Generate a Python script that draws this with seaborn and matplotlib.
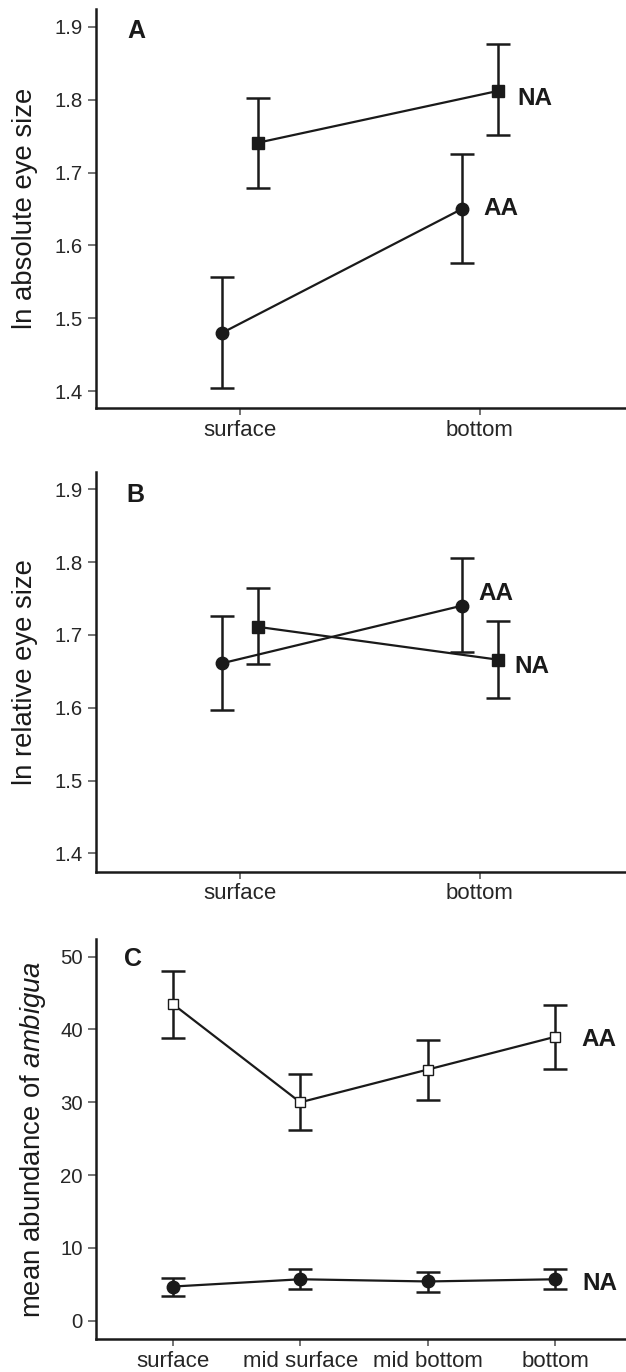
import matplotlib
matplotlib.use("Agg")
import matplotlib.pyplot as plt
import numpy as np
import pandas as pd
import seaborn as sns

# ---------------------------------------------------------------------------
# data (means with lower / upper error bar ends)

depth2 = ["surface", "bottom"]
depth4 = ["surface", "mid surface", "mid bottom", "bottom"]
groups = ["AA", "NA"]

# A: ln absolute eye size
abs_aa_mean = [1.480, 1.650]
abs_aa_lo = [1.405, 1.576]
abs_aa_hi = [1.557, 1.725]
abs_na_mean = [1.741, 1.812]
abs_na_lo = [1.679, 1.751]
abs_na_hi = [1.803, 1.876]

# B: ln relative eye size
rel_aa_mean = [1.661, 1.740]
rel_aa_lo = [1.597, 1.676]
rel_aa_hi = [1.726, 1.805]
rel_na_mean = [1.711, 1.666]
rel_na_lo = [1.660, 1.613]
rel_na_hi = [1.765, 1.719]

# C: mean abundance of ambigua
amb_aa_mean = [43.5, 30.0, 34.5, 39.0]
amb_aa_lo = [38.9, 26.2, 30.3, 34.6]
amb_aa_hi = [48.1, 33.9, 38.6, 43.4]
amb_na_mean = [4.7, 5.7, 5.4, 5.7]
amb_na_lo = [3.4, 4.35, 4.0, 4.35]
amb_na_hi = [5.9, 7.05, 6.7, 7.05]

INK = "#1a1a1a"
TICK = "#4d4d4d"

sns.set_theme(style="ticks")
plt.rcParams["font.family"] = ["Liberation Sans", "DejaVu Sans"]
plt.rcParams["mathtext.fontset"] = "custom"
plt.rcParams["mathtext.rm"] = "Liberation Sans"
plt.rcParams["mathtext.it"] = "Liberation Sans:italic"


def make_frame(depths, aa, na):
    rows = []
    for grp, (mean, lo, hi) in zip(groups, (aa, na)):
        for d, m, l, h in zip(depths, mean, lo, hi):
            rows.append({"depth": d, "group": grp, "mean": m, "lo": l, "hi": h})
    return pd.DataFrame(rows)


def draw_panel(ax, df, order, dodge, markers, sizes, open_aa, xlim, ylim, yticks,
               ylabel, ylabel_x, letter, letter_xy, label_offsets):
    sns.pointplot(
        data=df, x="depth", y="mean", hue="group", order=order, hue_order=groups,
        dodge=dodge, markers=markers, linestyles="-", palette=[INK, INK],
        errorbar=None, legend=False, ax=ax, linewidth=1.6, markeredgewidth=1.0,
    )
    lines = ax.lines[:len(groups)]
    for grp, line, ms in zip(groups, lines, sizes):
        line.set_markersize(ms)
        line.set_zorder(3)
        if open_aa and grp == "AA":
            line.set_markerfacecolor("white")
            line.set_markeredgecolor(INK)
        sub = df[df["group"] == grp].set_index("depth").loc[order]
        xs = line.get_xdata()
        mean = sub["mean"].to_numpy()
        ax.errorbar(xs, mean, yerr=[mean - sub["lo"].to_numpy(), sub["hi"].to_numpy() - mean],
                    fmt="none", ecolor=INK, elinewidth=1.8, capsize=8.6, capthick=1.8,
                    zorder=1)
        dx, dy = label_offsets[grp]
        ax.annotate(grp, (xs[-1], mean[-1]), xytext=(dx, dy), textcoords="offset points",
                    ha="left", va="baseline", fontsize=17.5, fontweight="bold", color=INK)

    ax.set_xlim(*xlim)
    ax.set_ylim(*ylim)
    ax.set_yticks(yticks)
    ax.set_xlabel("")
    ax.set_ylabel(ylabel, fontsize=19.8, color=INK)
    ax.yaxis.set_label_coords(ylabel_x, 0.5)
    ax.text(letter_xy[0], letter_xy[1], letter, transform=ax.transAxes, ha="center",
            va="baseline", fontsize=18, fontweight="bold", color=INK)

    sns.despine(ax=ax)
    for side in ("left", "bottom"):
        ax.spines[side].set_linewidth(1.8)
        ax.spines[side].set_color(INK)
    ax.tick_params(axis="both", color=TICK, width=1.1, labelcolor="#262626")
    ax.tick_params(axis="y", length=6, pad=3.6, labelsize=14.7)
    ax.tick_params(axis="x", length=5, pad=3.5, labelsize=16)


fig = plt.figure(figsize=(6.26, 13.72), dpi=100)
ax_a = fig.add_axes([0.1534, 0.7026, 0.8466, 0.2906])
ax_b = fig.add_axes([0.1534, 0.3647, 0.8466, 0.2915])
ax_c = fig.add_axes([0.1534, 0.0238, 0.8466, 0.2916])

eye_ticks = [1.4, 1.5, 1.6, 1.7, 1.8, 1.9]

draw_panel(ax_a, make_frame(depth2, (abs_aa_mean, abs_aa_lo, abs_aa_hi),
                            (abs_na_mean, abs_na_lo, abs_na_hi)),
           depth2, 0.15, ["o", "s"], [9.0, 8.6], False, (-0.6, 1.61), (1.377, 1.924),
           eye_ticks, "ln absolute eye size", -0.110, "A", (0.0755, 0.927),
           {"AA": (15.8, -4.3), "NA": (14.4, -10.3)})

draw_panel(ax_b, make_frame(depth2, (rel_aa_mean, rel_aa_lo, rel_aa_hi),
                            (rel_na_mean, rel_na_lo, rel_na_hi)),
           depth2, 0.15, ["o", "s"], [9.0, 8.6], False, (-0.6, 1.61), (1.375, 1.924),
           eye_ticks, "ln relative eye size", -0.110, "B", (0.0745, 0.925),
           {"AA": (12.2, 4.1), "NA": (12.2, -9.6)})

draw_panel(ax_c, make_frame(depth4, (amb_aa_mean, amb_aa_lo, amb_aa_hi),
                            (amb_na_mean, amb_na_lo, amb_na_hi)),
           depth4, False, ["s", "o"], [7.6, 9.0], True, (-0.602, 3.555), (-2.55, 52.39),
           [0, 10, 20, 30, 40, 50], "mean abundance of $\\mathit{ambigua}$", -0.0915,
           "C", (0.069, 0.933), {"AA": (18.7, -6.5), "NA": (19.4, -7.7)})

fig.savefig("out.png", dpi=100)
